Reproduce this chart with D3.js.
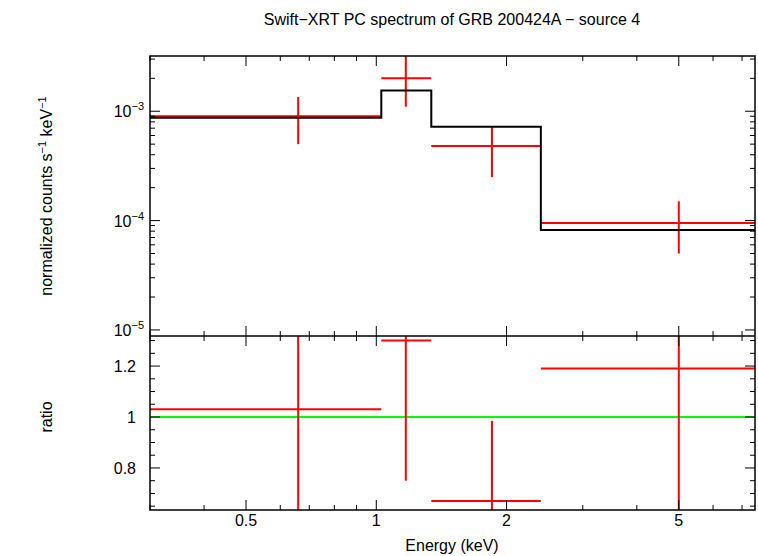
<!DOCTYPE html>
<html><head><meta charset="utf-8">
<script src="https://cdn.jsdelivr.net/npm/d3@7"></script>
<style>body{margin:0;background:#fff}text{font-family:"Liberation Sans",Arial,sans-serif}</style>
</head><body><div id="chart"></div>
<script>
// bins: energy low/high, centre, spectrum value and error, ratio and error
const binLo = [0.3, 1.027, 1.34, 2.40];
const binHi = [1.027, 1.34, 2.40, 7.5];
const binMid = [0.66, 1.17, 1.85, 5.0];
const rate = [9.0e-4, 2.0e-3, 4.8e-4, 9.5e-5];
const rateLo = [5.0e-4, 1.1e-3, 2.5e-4, 5.0e-5];
const rateHi = [1.35e-3, 3.2e-3, 7.2e-4, 1.5e-4];
const model = [8.7e-4, 1.55e-3, 7.2e-4, 8.2e-5];
const ratio = [1.03, 1.30, 0.67, 1.19];
const ratioLo = [0.4, 0.75, 0.4, 0.4];
const ratioHi = [1.4, 1.4, 0.985, 1.4];
const xTicks = [0.5, 1, 2, 5];
const yTicksTop = [1e-5, 1e-4, 1e-3];
const yTicksBot = [0.8, 1, 1.2];

const W = 758, H = 556, L = 150, R = 755, T = 56, M = 336, B = 510;
const svg = d3.select("#chart").append("svg").attr("width", W).attr("height", H);

const x = d3.scaleLog().domain([0.3, 7.5]).range([L, R]);
const yTop = d3.scaleLog().domain([8.8e-6, 3.2e-3]).range([M, T]);
const yBot = d3.scaleLinear().domain([0.635, 1.318]).range([B, M]);

svg.append("clipPath").attr("id", "ct").append("rect").attr("x", L).attr("y", T).attr("width", R - L).attr("height", M - T);
svg.append("clipPath").attr("id", "cb").append("rect").attr("x", L).attr("y", M).attr("width", R - L).attr("height", B - M);

const gT = svg.append("g").attr("clip-path", "url(#ct)");
const gB = svg.append("g").attr("clip-path", "url(#cb)");

// data crosses top
binMid.forEach((m, i) => {
  gT.append("line").attr("x1", x(binLo[i])).attr("x2", x(binHi[i])).attr("y1", yTop(rate[i])).attr("y2", yTop(rate[i])).attr("stroke", "red").attr("stroke-width", 2);
  gT.append("line").attr("x1", x(m)).attr("x2", x(m)).attr("y1", yTop(rateLo[i])).attr("y2", yTop(rateHi[i])).attr("stroke", "red").attr("stroke-width", 2);
});
// model step
let pts = [];
model.forEach((v, i) => { pts.push([x(binLo[i]), yTop(v)]); pts.push([x(binHi[i]), yTop(v)]); });
gT.append("path").attr("d", d3.line()(pts)).attr("fill", "none").attr("stroke", "black").attr("stroke-width", 2);

// ratio
gB.append("line").attr("x1", L).attr("x2", R).attr("y1", yBot(1)).attr("y2", yBot(1)).attr("stroke", "#00ff00").attr("stroke-width", 2);
binMid.forEach((m, i) => {
  gB.append("line").attr("x1", x(binLo[i])).attr("x2", x(binHi[i])).attr("y1", yBot(ratio[i])).attr("y2", yBot(ratio[i])).attr("stroke", "red").attr("stroke-width", 2);
  gB.append("line").attr("x1", x(m)).attr("x2", x(m)).attr("y1", yBot(ratioLo[i])).attr("y2", yBot(ratioHi[i])).attr("stroke", "red").attr("stroke-width", 2);
});

// frames
svg.append("rect").attr("x", L).attr("y", T).attr("width", R - L).attr("height", B - T).attr("fill", "none").attr("stroke", "black").attr("stroke-width", 1.5);
svg.append("line").attr("x1", L).attr("x2", R).attr("y1", M).attr("y2", M).attr("stroke", "black").attr("stroke-width", 1.5);

// x ticks (both panels, top & bottom edges)
const minorX = [];
for (const d of [0.1, 1]) for (let k = 1; k <= 9; k++) { const v = d * k; if (v >= 0.3 && v <= 7.5) minorX.push(v); }
function xt(y0, dir) {
  minorX.forEach(v => {
    const big = xTicks.includes(v);
    svg.append("line").attr("x1", x(v)).attr("x2", x(v)).attr("y1", y0).attr("y2", y0 + dir * (big ? 10 : 5)).attr("stroke", "black");
  });
}
xt(B, -1); xt(M, 1); xt(M, -1); xt(T, 1);
xTicks.forEach(v => svg.append("text").attr("x", x(v)).attr("y", B + 5).attr("dy", "0.71em").attr("text-anchor", "middle").attr("font-size", 16).text(v));

// y ticks top
const minorY = [];
for (const d of [1e-5, 1e-4, 1e-3]) for (let k = 1; k <= 9; k++) { const v = d * k; if (v >= 8.8e-6 && v <= 3.2e-3) minorY.push(v); }
minorY.forEach(v => {
  const big = yTicksTop.includes(v);
  const l = big ? 10 : 5;
  svg.append("line").attr("x1", L).attr("x2", L + l).attr("y1", yTop(v)).attr("y2", yTop(v)).attr("stroke", "black");
  svg.append("line").attr("x1", R).attr("x2", R - l).attr("y1", yTop(v)).attr("y2", yTop(v)).attr("stroke", "black");
});
yTicksTop.forEach(v => {
  const t = svg.append("text").attr("x", L - 6).attr("y", yTop(v) + 6).attr("text-anchor", "end").attr("font-size", 16);
  t.append("tspan").text("10");
  t.append("tspan").attr("dy", -7).attr("font-size", 11).text("\u2212" + Math.round(-Math.log10(v)));
});

// y ticks bottom
d3.range(0.65, 1.32, 0.05).forEach(v => {
  const big = yTicksBot.some(b => Math.abs(b - v) < 1e-6);
  const l = big ? 10 : 5;
  svg.append("line").attr("x1", L).attr("x2", L + l).attr("y1", yBot(v)).attr("y2", yBot(v)).attr("stroke", "black");
  svg.append("line").attr("x1", R).attr("x2", R - l).attr("y1", yBot(v)).attr("y2", yBot(v)).attr("stroke", "black");
});
yTicksBot.forEach(v => svg.append("text").attr("x", L - 14).attr("y", yBot(v) + 6).attr("text-anchor", "end").attr("font-size", 16).text(v));

// labels
svg.append("text").attr("x", 452).attr("y", 25).attr("text-anchor", "middle").attr("font-size", 16).text("Swift\u2212XRT PC spectrum of GRB 200424A \u2212 source 4");
svg.append("text").attr("x", 452).attr("y", 551).attr("text-anchor", "middle").attr("font-size", 16).text("Energy (keV)");
const yl = svg.append("text").attr("transform", "translate(52,196) rotate(-90)").attr("text-anchor", "middle").attr("font-size", 16);
yl.append("tspan").text("normalized counts s");
yl.append("tspan").attr("dy", -6).attr("font-size", 11).text("\u22121");
yl.append("tspan").attr("dy", 6).text(" keV");
yl.append("tspan").attr("dy", -6).attr("font-size", 11).text("\u22121");
svg.append("text").attr("transform", "translate(52,417) rotate(-90)").attr("text-anchor", "middle").attr("font-size", 16).text("ratio");
</script></body></html>
